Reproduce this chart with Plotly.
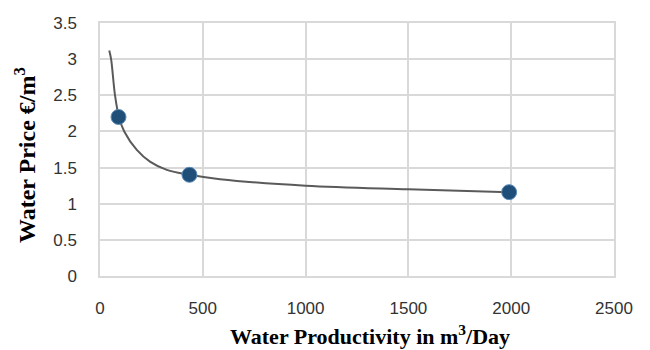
import plotly.graph_objects as go

# Measured data points
point_x = [90, 435, 1990]
point_y = [2.2, 1.4, 1.16]

# Trend curve
curve_x = [45, 54, 73, 92, 118, 179, 243, 325, 435, 584, 1000, 1500, 1990]
curve_y = [3.12, 3.0, 2.5, 2.2, 2.0, 1.745, 1.583, 1.468, 1.40, 1.34, 1.25, 1.20, 1.16]

x_ticks = [0, 500, 1000, 1500, 2000, 2500]
y_ticks = [0, 0.5, 1, 1.5, 2, 2.5, 3, 3.5]

x_title = "<b>Water Productivity in m<sup>3</sup>/Day</b>"
y_title = "<b>Water Price €/m<sup>3</sup></b>"

fig = go.Figure()
fig.add_trace(go.Scatter(
    x=curve_x, y=curve_y, mode="lines",
    line=dict(color="#5a5a5a", width=2, shape="spline", smoothing=1.0),
    hoverinfo="skip", showlegend=False))
fig.add_trace(go.Scatter(
    x=point_x, y=point_y, mode="markers",
    marker=dict(color="#1f4e79", size=15, line=dict(color="#5b8bb8", width=1)),
    showlegend=False))

grid = "#d9d9d9"
tickfont = dict(family="Liberation Sans, Arial, sans-serif", size=17, color="#333333")
serif = "Liberation Serif, Times New Roman, serif"

fig.update_layout(
    width=650, height=350,
    margin=dict(l=100, r=36, t=23, b=74, autoexpand=False),
    paper_bgcolor="white", plot_bgcolor="white",
    xaxis=dict(
        range=[0, 2500], tickvals=x_ticks, ticktext=[str(v) for v in x_ticks],
        showgrid=True, gridcolor=grid, gridwidth=1.5, zeroline=False,
        showline=True, linecolor=grid, linewidth=1.5, mirror=True,
        ticks="", tickfont=tickfont, ticklabelstandoff=16, automargin=False,
    ),
    yaxis=dict(
        range=[0, 3.5], tickvals=y_ticks, ticktext=[str(v) for v in y_ticks],
        showgrid=True, gridcolor=grid, gridwidth=1.5, zeroline=False,
        showline=True, linecolor=grid, linewidth=1.5, mirror=True,
        ticks="", tickfont=tickfont, ticklabelstandoff=18, automargin=False,
    ),
    annotations=[
        dict(text=x_title, xref="paper", yref="paper", x=0.525, y=-0.233,
             xanchor="center", yanchor="middle", showarrow=False,
             font=dict(family=serif, size=22, color="#000000")),
        dict(text=y_title, xref="paper", yref="paper", x=-0.146, y=0.478,
             xanchor="center", yanchor="middle", showarrow=False, textangle=-90,
             font=dict(family=serif, size=24, color="#000000")),
    ],
)

fig.write_html("out.html")
